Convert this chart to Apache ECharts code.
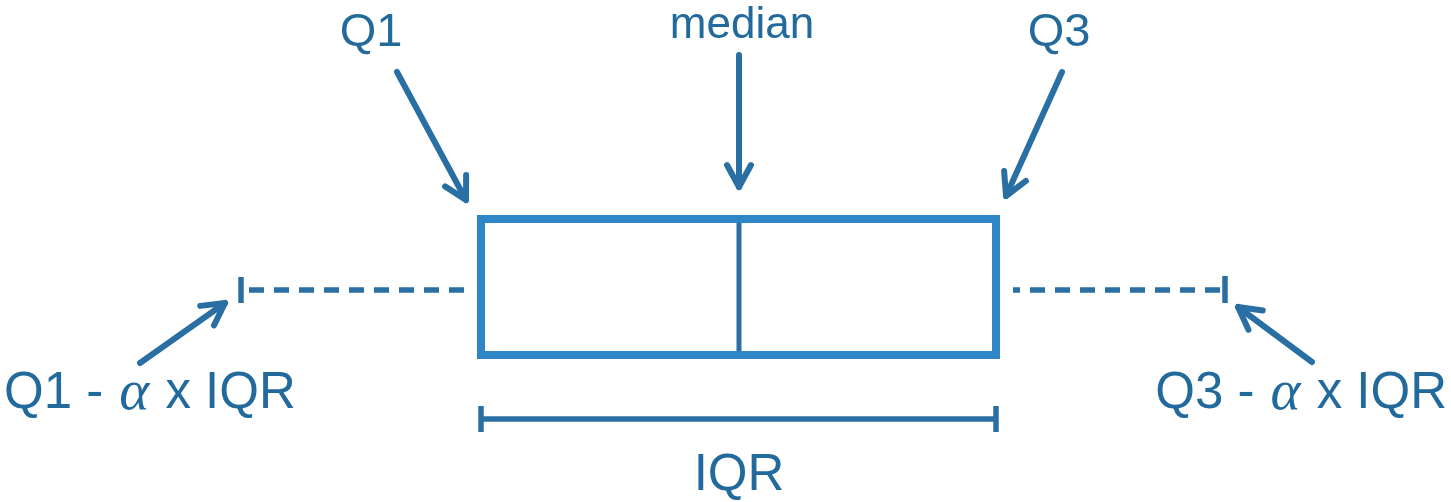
<!DOCTYPE html>
<html>
<head>
<meta charset="utf-8">
<script src="https://cdn.jsdelivr.net/npm/echarts@6/dist/echarts.min.js"></script>
<style>html,body{margin:0;padding:0;background:#fff}#c{width:1451px;height:502px}</style>
</head>
<body>
<div id="c"></div>
<script>
// ---- data (diagram units) ----
const boxStats = [241, 481, 739, 996, 1225];        // lower whisker, Q1, median, Q3, upper whisker
const boxRange = [219, 355];                          // box top / bottom level
const whiskerLevel = [290];
const iqrLevel = [419];
const labelTexts = ['Q1', 'median', 'Q3', 'Q1 - α x IQR', 'Q3 - α x IQR', 'IQR'];
const labelX = [371, 742, 1059, 4, 1447, 739];
const labelY = [33, 26, 33, 394, 394, 476];
const arrowFrom = [[397, 72], [739, 55], [1062, 72], [140, 363], [1312, 362]];
const arrowTo = [[466, 200], [739, 187], [1006, 196], [225, 303], [1238, 307]];

const TEXT = '#236a9c', BOX = '#2e86c6', DARK = '#2a6fa3';
const labelAlign = ['center', 'center', 'center', 'left', 'right', 'center'];
const labelSize = [47, 44, 47, 51, 51, 51];

const chart = echarts.init(document.getElementById('c'), null, {renderer: 'canvas'});

function boxRender(params, api) {
  const q1 = api.value(1), med = api.value(2), q3 = api.value(3);
  const lo = api.value(0), hi = api.value(4);
  const top = api.value(5), bot = api.value(6), wy = api.value(7), iy = api.value(8);
  const pTL = api.coord([q1, top]), pBR = api.coord([q3, bot]);
  const pMedT = api.coord([med, top]), pMedB = api.coord([med, bot]);
  const pLo = api.coord([lo, wy]), pHi = api.coord([hi, wy]);
  const pIqrL = api.coord([q1, iy]), pIqrR = api.coord([q3, iy]);
  const dash = {stroke: DARK, lineWidth: 5.5, lineDash: [15, 10]};
  return {
    type: 'group',
    children: [
      {type: 'line', shape: {x1: pLo[0] + 8, y1: pLo[1], x2: pTL[0] - 17, y2: pLo[1]}, style: dash},
      {type: 'line', shape: {x1: pBR[0] + 17, y1: pHi[1], x2: pHi[0] - 4, y2: pHi[1]}, style: Object.assign({}, dash, {lineDashOffset: 8})},
      {type: 'line', shape: {x1: pLo[0], y1: pLo[1] - 13, x2: pLo[0], y2: pLo[1] + 13}, style: {stroke: DARK, lineWidth: 5.5}},
      {type: 'line', shape: {x1: pHi[0], y1: pHi[1] - 14, x2: pHi[0], y2: pHi[1] + 13}, style: {stroke: DARK, lineWidth: 5.5}},
      {type: 'line', shape: {x1: pMedT[0], y1: pMedT[1], x2: pMedB[0], y2: pMedB[1]}, style: {stroke: DARK, lineWidth: 5}},
      {type: 'rect', shape: {x: pTL[0], y: pTL[1], width: pBR[0] - pTL[0], height: pBR[1] - pTL[1]}, style: {fill: null, stroke: BOX, lineWidth: 8}},
      {type: 'line', shape: {x1: pIqrL[0], y1: pIqrL[1], x2: pIqrR[0], y2: pIqrR[1]}, style: {stroke: DARK, lineWidth: 5.5}},
      {type: 'line', shape: {x1: pIqrL[0], y1: pIqrL[1] - 13, x2: pIqrL[0], y2: pIqrL[1] + 13}, style: {stroke: DARK, lineWidth: 5.5}},
      {type: 'line', shape: {x1: pIqrR[0], y1: pIqrR[1] - 13, x2: pIqrR[0], y2: pIqrR[1] + 13}, style: {stroke: DARK, lineWidth: 5.5}}
    ]
  };
}

function arrowRender(params, api) {
  const a = api.coord([api.value(0), api.value(1)]);
  const b = api.coord([api.value(2), api.value(3)]);
  const ang = Math.atan2(b[1] - a[1], b[0] - a[0]);
  const L = 25, spread = 0.5;
  const h1 = [b[0] - L * Math.cos(ang - spread), b[1] - L * Math.sin(ang - spread)];
  const h2 = [b[0] - L * Math.cos(ang + spread), b[1] - L * Math.sin(ang + spread)];
  const st = {stroke: DARK, lineWidth: 6, lineCap: 'round', lineJoin: 'round', fill: null};
  return {
    type: 'group',
    children: [
      {type: 'line', shape: {x1: a[0], y1: a[1], x2: b[0], y2: b[1]}, style: st},
      {type: 'polyline', shape: {points: [h1, b, h2]}, style: st}
    ]
  };
}

function labelRender(params, api) {
  const p = api.coord([api.value(0), api.value(1)]);
  const i = params.dataIndex;
  const size = labelSize[i];
  const txt = labelTexts[i];
  const style = {
    fill: TEXT,
    font: size + 'px "Liberation Sans", Arial, sans-serif',
    align: labelAlign[i],
    verticalAlign: 'middle'
  };
  if (txt.indexOf('α') >= 0) {
    const parts = txt.split('α');
    style.text = '{s|' + parts[0] + '}{g|α}{s|' + parts[1] + '}';
    style.rich = {
      s: {fill: TEXT, fontSize: size, fontFamily: '"Liberation Sans", Arial, sans-serif'},
      g: {fill: TEXT, fontSize: size + 6, fontFamily: '"Liberation Serif", "DejaVu Serif", serif', fontStyle: 'italic', padding: [0, 2, 0, 2]}
    };
  } else {
    style.text = txt;
  }
  return {type: 'text', x: p[0], y: p[1], style: style};
}

chart.setOption({
  animation: false,
  backgroundColor: '#fff',
  grid: {left: 0, right: 0, top: 0, bottom: 0},
  xAxis: {type: 'value', min: 0, max: 1451, show: false},
  yAxis: {type: 'value', min: 0, max: 502, inverse: true, show: false},
  series: [
    {type: 'custom', renderItem: boxRender,
     data: [[...boxStats, boxRange[0], boxRange[1], whiskerLevel[0], iqrLevel[0]]]},
    {type: 'custom', renderItem: arrowRender,
     data: arrowFrom.map((f, i) => [f[0], f[1], arrowTo[i][0], arrowTo[i][1]])},
    {type: 'custom', renderItem: labelRender,
     data: labelX.map((x, i) => [x, labelY[i]])}
  ]
});
</script>
</body>
</html>
